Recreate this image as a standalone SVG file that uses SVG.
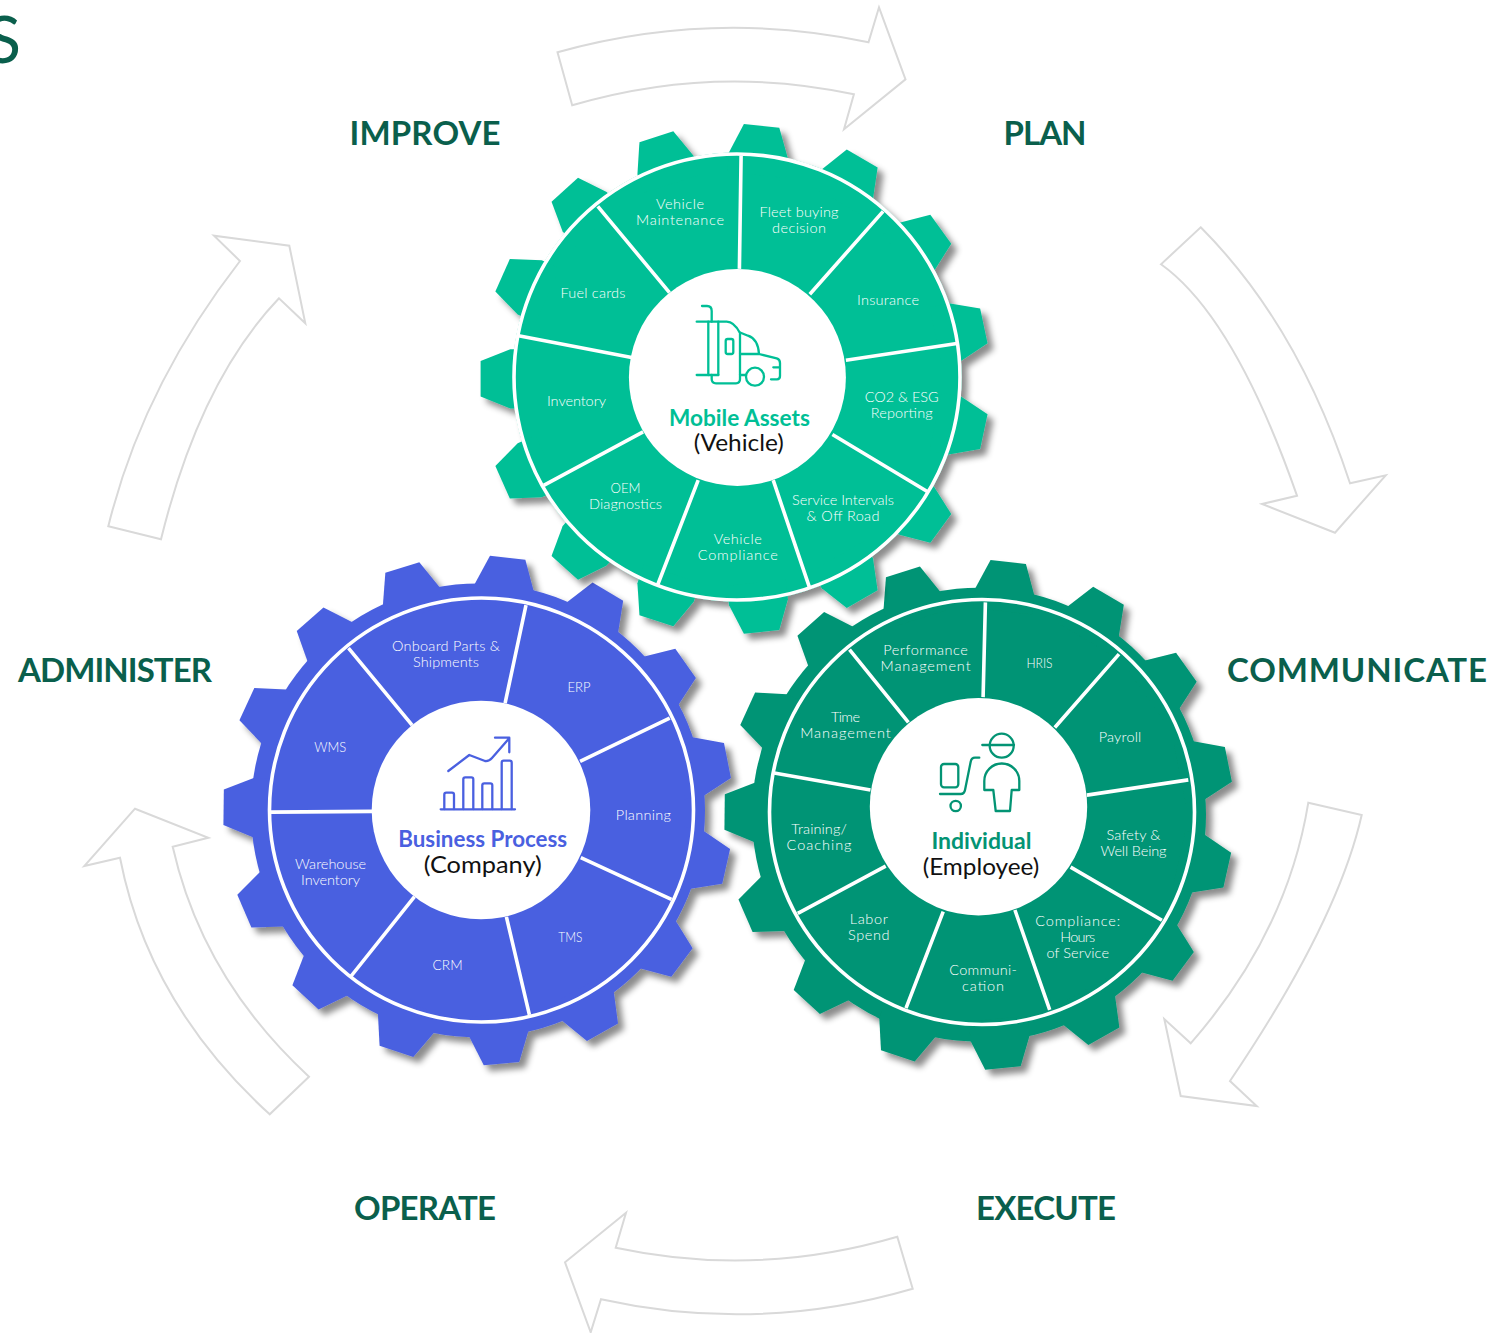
<svg xmlns="http://www.w3.org/2000/svg" xmlns:xlink="http://www.w3.org/1999/xlink" width="1509" height="1333" viewBox="0 0 1509 1333">
<style>
text{font-family:"Lato","Open Sans","Liberation Sans",sans-serif}
.arrow{fill:#fff;stroke:#d9d9d9;stroke-width:2;stroke-linejoin:miter}
.stage{font-size:33px;font-weight:700;fill:#0a5f4c;text-anchor:middle}
.lbl{font-size:14.5px;font-weight:300;fill:#fff;text-anchor:middle}
.head{font-size:22px;font-weight:700;text-anchor:middle}
.sub{font-size:23px;font-weight:400;fill:#111;text-anchor:middle}
.ring{fill:none;stroke:#fff;stroke-width:3.6}
.spoke{stroke:#fff;stroke-width:3.6;fill:none}
.hole{fill:#fff}
.icon{fill:none;stroke-width:2.3;stroke-linecap:round;stroke-linejoin:round}
.c1{fill:#00bf96}.c2{fill:#4a60e0}.c3{fill:#039474}
.s1{stroke:#00bf96}.s2{stroke:#4a60e0}.s3{stroke:#039474}
</style>
<defs>
<filter id="shadow" x="-10%" y="-10%" width="125%" height="125%"><feDropShadow dx="6" dy="6" stdDeviation="3" flood-color="#000" flood-opacity="0.45"/></filter>
<polygon id="tooth" points="-29.6,-224.7 -17.8,-254.4 17.8,-254.4 29.6,-224.7 29.6,-205 -29.6,-205"/>
<g id="teeth">
<use xlink:href="#tooth" href="#tooth" transform="rotate(6)"/>
<use xlink:href="#tooth" href="#tooth" transform="rotate(30)"/>
<use xlink:href="#tooth" href="#tooth" transform="rotate(54)"/>
<use xlink:href="#tooth" href="#tooth" transform="rotate(78)"/>
<use xlink:href="#tooth" href="#tooth" transform="rotate(102)"/>
<use xlink:href="#tooth" href="#tooth" transform="rotate(126)"/>
<use xlink:href="#tooth" href="#tooth" transform="rotate(150)"/>
<use xlink:href="#tooth" href="#tooth" transform="rotate(174)"/>
<use xlink:href="#tooth" href="#tooth" transform="rotate(198)"/>
<use xlink:href="#tooth" href="#tooth" transform="rotate(222)"/>
<use xlink:href="#tooth" href="#tooth" transform="rotate(246)"/>
<use xlink:href="#tooth" href="#tooth" transform="rotate(270)"/>
<use xlink:href="#tooth" href="#tooth" transform="rotate(294)"/>
<use xlink:href="#tooth" href="#tooth" transform="rotate(318)"/>
<use xlink:href="#tooth" href="#tooth" transform="rotate(342)"/>
</g>
</defs>
<rect width="1509" height="1333" fill="#fff"/>
<text x="21" y="63" style="font-size:65px;font-weight:400;fill:#0a5f4c;text-anchor:end">S</text>
<g id="connectors">
<path class="arrow" d="M557.5,52.3 Q713,9 868.5,42.3 L879,7.3 L905.5,79.3 L844,129.3 L853.9,94.3 Q713,64 572.2,105.3 Z"/>
<path class="arrow" d="M1200.7,227.3 Q1298,324.7 1350,483.3 L1385.7,475.3 L1335,532.7 L1262,504 L1297,495.7 Q1234.3,316.7 1161,264.3 Z"/>
<path class="arrow" d="M1361.7,815 Q1337.5,922 1230,1081 L1256.7,1106 L1180.7,1096 L1164.3,1019 L1190.7,1043.3 Q1287,933.6 1308.3,802.7 Z"/>
<path class="arrow" d="M912.7,1288.7 Q757,1334 601,1299.3 L590.7,1332.3 L565,1262.3 L626,1212.7 L615.7,1247.7 Q756.5,1278 897.3,1236.7 Z"/>
<path class="arrow" d="M309,1076.7 Q202.5,978.3 172.7,846.7 L208.3,837.7 L135,808.7 L84.3,866 L120,857.7 Q148.5,1004 269.7,1114.3 Z"/>
<path class="arrow" d="M108.3,526.3 Q142.7,386.3 240,261 L214,235.7 L289.3,245.7 L305.3,323.3 L279,298.3 Q200,381 161,539.3 Z"/>
</g>
<g id="stage-improve"><text class="stage" x="425" y="145" textLength="151">IMPROVE</text></g>
<g id="stage-plan"><text class="stage" x="1045" y="145" textLength="83">PLAN</text></g>
<g id="stage-communicate"><text class="stage" x="1357" y="682" textLength="260">COMMUNICATE</text></g>
<g id="stage-execute"><text class="stage" x="1046" y="1220" textLength="140">EXECUTE</text></g>
<g id="stage-operate"><text class="stage" x="425" y="1220" textLength="142">OPERATE</text></g>
<g id="stage-administer"><text class="stage" x="115" y="682" textLength="194">ADMINISTER</text></g>

<g id="gear-company">
<g class="c2" filter="url(#shadow)">
<circle cx="478" cy="810.4" r="227"/>
<use xlink:href="#teeth" href="#teeth" transform="translate(478,810.4) rotate(0.7)"/>
</g>
<circle class="ring" cx="481.5" cy="810" r="212"/>
<path class="spoke" d="M526,605.2L505.1,703.2M669.7,718.1L580.1,761.4M671.4,899.3L580.8,857.7M529.4,1014.9L506.4,916.9M351.2,976L414.5,896.6M270.8,812.1L372.2,811.4M348.5,648.1L412.1,725.2"/>
<circle class="hole" cx="481" cy="810" r="109.3"/>
<g class="icon s2">
<path d="M440.7,809.3H515"/>
<path d="M444.3,809V794.7q0,-2 2,-2h5.7q2,0 2,2V809M463.3,809V779.3q0,-2 2,-2h6q2,0 2,2V809M482.3,809V785.3q0,-2 2,-2h6q2,0 2,2V809M501.7,809V762.7q0,-2 2,-2h6q2,0 2,2V809"/>
<path d="M448.3,771L469.3,755L485,761Q489,761.5 492,758L509,738.5M495,737.7H509.3V752.3"/>
</g>
<text class="head c2" x="482.7" y="846.6" textLength="169" lengthAdjust="spacingAndGlyphs">Business Process</text>
<text class="sub" x="482.7" y="873" textLength="118" lengthAdjust="spacingAndGlyphs">(Company)</text>
<text class="lbl" x="446" y="650.9" textLength="108">Onboard Parts &amp;</text>
<text class="lbl" x="446" y="667" textLength="66">Shipments</text>
<text class="lbl" x="579" y="692.4" textLength="23" lengthAdjust="spacingAndGlyphs">ERP</text>
<text class="lbl" x="643.3" y="820" textLength="55">Planning</text>
<text class="lbl" x="570.3" y="942" textLength="24" lengthAdjust="spacingAndGlyphs">TMS</text>
<text class="lbl" x="447.6" y="970.3" textLength="30" lengthAdjust="spacingAndGlyphs">CRM</text>
<text class="lbl" x="330.6" y="868.9" textLength="71">Warehouse</text>
<text class="lbl" x="330.6" y="885" textLength="59">Inventory</text>
<text class="lbl" x="330.3" y="752" textLength="32" lengthAdjust="spacingAndGlyphs">WMS</text>
</g>

<g id="gear-employee">
<g class="c3" filter="url(#shadow)">
<circle cx="979" cy="814.7" r="227"/>
<use xlink:href="#teeth" href="#teeth" transform="translate(979,814.7) rotate(0.6)"/>
</g>
<circle class="ring" cx="982" cy="812" r="212.5"/>
<path class="spoke" d="M985.4,602.4L983.1,697.1M1119,654.1L1054.8,727.5M1188.3,779.9L1086.9,795.1M1161.9,920.2L1070.6,867.1M1049.7,1009.8L1014.9,910M906,1008.1L943.2,911.7M797.8,913.4L885.7,866.1M774.2,773.1L870.5,790M849.5,649.7L908.4,722.4"/>
<circle class="hole" cx="978.5" cy="806.7" r="108.7"/>
<g class="icon s3">
<circle cx="1001.7" cy="745.7" r="12"/>
<path d="M982.3,745H1014"/>
<path d="M984.3,790V781a17.5,17.5 0 0 1 35,0V790H1011.7L1010,811H995.7L993.3,790Z"/>
<rect x="941" y="764" width="17.3" height="23.3" rx="3"/>
<path d="M979.3,757.7H975Q971.5,757.7 970.7,761.7L965,790Q964.3,794 960.7,794H940"/>
<circle cx="955.7" cy="806" r="5.2"/>
</g>
<text class="head c3" x="981.4" y="849.2" textLength="100" lengthAdjust="spacingAndGlyphs">Individual</text>
<text class="sub" x="981" y="875.2" textLength="116.6" lengthAdjust="spacingAndGlyphs">(Employee)</text>
<text class="lbl" x="925.6" y="654.9" textLength="84.5">Performance</text>
<text class="lbl" x="925.6" y="671" textLength="90">Management</text>
<text class="lbl" x="1039.5" y="668.3" textLength="26" lengthAdjust="spacingAndGlyphs">HRIS</text>
<text class="lbl" x="1120" y="742" textLength="42.6">Payroll</text>
<text class="lbl" x="1133.5" y="840" textLength="54">Safety &amp;</text>
<text class="lbl" x="1133.5" y="856" textLength="66">Well Being</text>
<text class="lbl" x="1077.7" y="926" textLength="85">Compliance:</text>
<text class="lbl" x="1077.7" y="941.8" textLength="35">Hours</text>
<text class="lbl" x="1077.7" y="958" textLength="62.5">of Service</text>
<text class="lbl" x="983" y="975" textLength="67.6">Communi-</text>
<text class="lbl" x="983" y="990.8" textLength="42">cation</text>
<text class="lbl" x="868.8" y="924" textLength="38">Labor</text>
<text class="lbl" x="868.8" y="940" textLength="41.6">Spend</text>
<text class="lbl" x="819" y="834" textLength="55.4">Training/</text>
<text class="lbl" x="819" y="850" textLength="65">Coaching</text>
<text class="lbl" x="845.5" y="722" textLength="29">Time</text>
<text class="lbl" x="845.5" y="738" textLength="90.6">Management</text>
</g>

<g id="gear-vehicle">
<g class="c1" filter="url(#shadow)">
<circle cx="737" cy="377" r="224.5"/>
<use xlink:href="#teeth" href="#teeth" transform="translate(735,378.8)"/>
</g>
<circle class="ring" cx="737" cy="377" r="223"/>
<path class="spoke" d="M741.1,155.6L739.4,268.9M883.1,211.4L809.8,294.2M958.5,343.3L845.9,360.2M928.1,492L832.4,434.5M809.8,588.4L773.2,480.2M657.6,585L698.2,480.2M543.7,485.3L643.1,431.8M517.3,335.5L631.6,357.5M597.8,206.3L669.5,292.6"/>
<circle class="hole" cx="737.4" cy="377.4" r="108.5"/>
<g class="icon s1">
<path d="M702,306H707Q711.7,306 711.7,311V321.7"/>
<path d="M696.7,321.7H726.7Q734,321.7 740,333V375M696.7,375H718.3"/>
<path d="M708.3,321.7V375M718.3,321.7V375"/>
<rect x="725.7" y="339" width="7.6" height="15" rx="2"/>
<path d="M711.7,375V379Q711.7,383.3 716,383.3H736Q740,383.3 740,379V375H746"/>
<path d="M740,332.5L748,335.7Q758,339 759,354H740M759,354L776.7,358.3Q780,359.3 780,363V376Q780,379.3 777,379.3H771M773.3,367.3H780"/>
<circle cx="755" cy="376.7" r="9"/>
</g>
<text class="head c1" x="739.4" y="425.6" textLength="141" lengthAdjust="spacingAndGlyphs">Mobile Assets</text>
<text class="sub" x="738.8" y="451" textLength="90" lengthAdjust="spacingAndGlyphs">(Vehicle)</text>
<text class="lbl" x="680" y="209" textLength="48">Vehicle</text>
<text class="lbl" x="680" y="225.3" textLength="88">Maintenance</text>
<text class="lbl" x="799" y="216.8" textLength="79">Fleet buying</text>
<text class="lbl" x="799" y="233" textLength="54">decision</text>
<text class="lbl" x="888" y="305" textLength="62">Insurance</text>
<text class="lbl" x="901.7" y="402" textLength="74">CO2 &amp; ESG</text>
<text class="lbl" x="901.7" y="418" textLength="62">Reporting</text>
<text class="lbl" x="843" y="504.8" textLength="102">Service Intervals</text>
<text class="lbl" x="843" y="521" textLength="73">&amp; Off Road</text>
<text class="lbl" x="737.7" y="544" textLength="48">Vehicle</text>
<text class="lbl" x="737.7" y="560" textLength="80">Compliance</text>
<text class="lbl" x="625.5" y="493" textLength="30" lengthAdjust="spacingAndGlyphs">OEM</text>
<text class="lbl" x="625.5" y="509" textLength="73">Diagnostics</text>
<text class="lbl" x="576.5" y="405.8" textLength="59">Inventory</text>
<text class="lbl" x="593" y="298" textLength="65">Fuel cards</text>
</g>
</svg>
